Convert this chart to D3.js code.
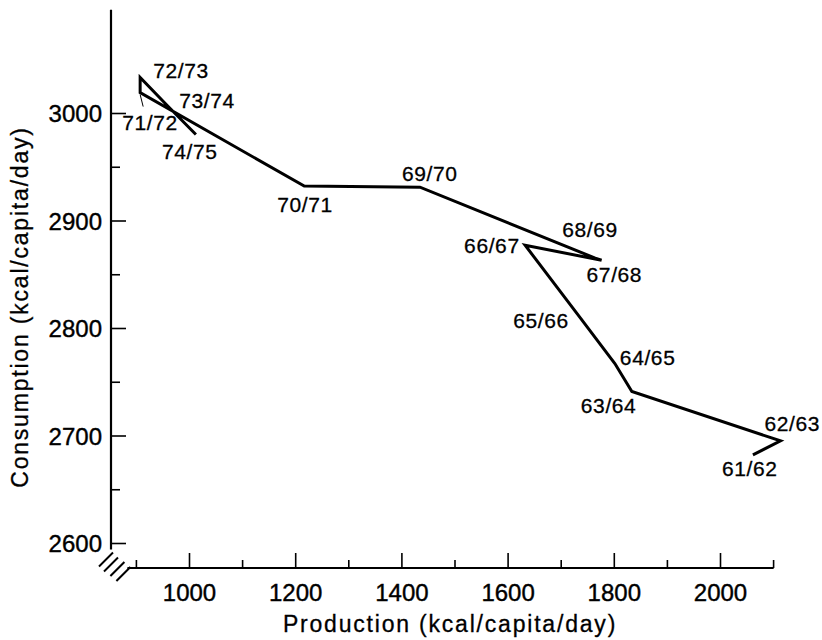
<!DOCTYPE html>
<html>
<head>
<meta charset="utf-8">
<script src="https://cdn.jsdelivr.net/npm/d3@7"></script>
<style>
  body { margin: 0; background: #fff; }
  svg { display: block; font-family: "Liberation Sans", Arial, sans-serif; }
  .axis .domain { display: none; }
  .axis line { stroke: #000; stroke-width: 1.6; }
  .axis text { fill: #000; font-size: 24px; stroke: #000; stroke-width: 0.4; }
  .pt-label { font-size: 21px; fill: #000; letter-spacing: 0.6px; stroke: #000; stroke-width: 0.3; }
  .title { font-size: 23px; fill: #000; letter-spacing: 1.8px; stroke: #000; stroke-width: 0.3; }
</style>
</head>
<body>
<div id="chart"></div>
<script>
// harvest years, production vs consumption (kcal/capita/day)
var years = ["61/62", "62/63", "63/64", "64/65", "65/66", "66/67", "67/68",
             "68/69", "69/70", "70/71", "71/72", "72/73", "73/74", "74/75"];
var production  = [2062, 2114, 1834, 1802, 1733, 1633, 1777,
                   1765, 1435, 1217, 908, 908, 959, 1013];
var consumption = [2682, 2695, 2741, 2767, 2812, 2877, 2863,
                   2865, 2931, 2932, 3019, 3033, 3007, 2980];

var xTicks = [1000, 1200, 1400, 1600, 1800, 2000];
var xMinorTicks = [900, 1100, 1300, 1500, 1700, 1900, 2100];
var yTicks = [2600, 2700, 2800, 2900, 3000];
var yMinorTicks = [2650, 2750, 2850, 2950];

// label placement relative to each point (px)
var labelOffsets = [[-31, 21], [-16, -10], [-51, 22], [5, 2], [-65, 13], [-61, 8], [-15, 22],
                    [-33, -21], [-18, -6], [-27, 26], [-18, 37], [13, 0], [12, 3], [-34, 24]];

var W = 822, H = 640;

var x = d3.scaleLinear().domain([1000, 2000]).range([189, 720]);
var y = d3.scaleLinear().domain([2600, 3000]).range([543, 113]);

var svg = d3.select("#chart").append("svg")
  .attr("width", W)
  .attr("height", H);

//////////////////////////////////////////////////////
// AXES
//////////////////////////////////////////////////////
var yAxisX = 111, xAxisY = 568;

svg.append("line")
  .attr("x1", yAxisX).attr("x2", yAxisX)
  .attr("y1", y(3096)).attr("y2", y(2594))
  .attr("stroke", "#000").attr("stroke-width", 2.2);

svg.append("line")
  .attr("x1", x(884)).attr("x2", x(2101))
  .attr("y1", xAxisY).attr("y2", xAxisY)
  .attr("stroke", "#000").attr("stroke-width", 2.2);

var gy = svg.append("g")
  .attr("class", "axis")
  .attr("transform", "translate(" + yAxisX + ",0)")
  .call(d3.axisLeft(y).tickValues(yTicks).tickFormat(d3.format("d"))
    .tickSizeInner(-15).tickSizeOuter(0).tickPadding(9));
gy.selectAll("text").attr("dy", "0.36em");

svg.append("g")
  .attr("class", "axis")
  .attr("transform", "translate(" + yAxisX + ",0)")
  .call(d3.axisLeft(y).tickValues(yMinorTicks).tickSizeInner(-9).tickSizeOuter(0).tickFormat(""));

var gx = svg.append("g")
  .attr("class", "axis")
  .attr("transform", "translate(0," + xAxisY + ")")
  .call(d3.axisBottom(x).tickValues(xTicks).tickFormat(d3.format("d"))
    .tickSizeInner(-15).tickSizeOuter(0).tickPadding(9));
gx.selectAll("text").attr("dy", "1.0em");

svg.append("g")
  .attr("class", "axis")
  .attr("transform", "translate(0," + xAxisY + ")")
  .call(d3.axisBottom(x).tickValues(xMinorTicks).tickSizeInner(-8).tickSizeOuter(0).tickFormat(""));

// axis break marks
var breaks = [[yAxisX - 5, y(2594) + 10], [yAxisX, y(2594) + 15],
              [x(884) - 10, xAxisY + 1], [x(884) - 4, xAxisY + 6]];
svg.append("g").selectAll("line")
  .data(breaks)
  .enter().append("line")
  .attr("x1", function(d) { return d[0] - 7; })
  .attr("y1", function(d) { return d[1] + 7; })
  .attr("x2", function(d) { return d[0] + 7; })
  .attr("y2", function(d) { return d[1] - 7; })
  .attr("stroke", "#000").attr("stroke-width", 2);

//////////////////////////////////////////////////////
// DATA LINE
//////////////////////////////////////////////////////
var pts = years.map(function(d, i) { return [production[i], consumption[i]]; });

svg.append("path")
  .datum(pts)
  .attr("fill", "none")
  .attr("stroke", "#000")
  .attr("stroke-width", 3)
  .attr("stroke-linejoin", "miter")
  .attr("d", d3.line().x(function(d) { return x(d[0]); }).y(function(d) { return y(d[1]); }));

// thin leader for 71/72
var i7172 = years.indexOf("71/72");
svg.append("line")
  .attr("x1", x(production[i7172])).attr("y1", y(consumption[i7172]) + 2)
  .attr("x2", x(production[i7172]) + 3).attr("y2", y(consumption[i7172]) + 14)
  .attr("stroke", "#000").attr("stroke-width", 1);

svg.append("g").selectAll("text")
  .data(years)
  .enter().append("text")
  .attr("class", "pt-label")
  .attr("x", function(d, i) { return x(production[i]) + labelOffsets[i][0]; })
  .attr("y", function(d, i) { return y(consumption[i]) + labelOffsets[i][1]; })
  .text(function(d) { return d; });

//////////////////////////////////////////////////////
// TITLES
//////////////////////////////////////////////////////
svg.append("text")
  .attr("class", "title")
  .attr("x", 450)
  .attr("y", 632)
  .attr("text-anchor", "middle")
  .text("Production (kcal/capita/day)");

svg.append("text")
  .attr("class", "title")
  .attr("transform", "translate(28,307) rotate(-90)")
  .attr("text-anchor", "middle")
  .text("Consumption (kcal/capita/day)");
</script>
</body>
</html>
